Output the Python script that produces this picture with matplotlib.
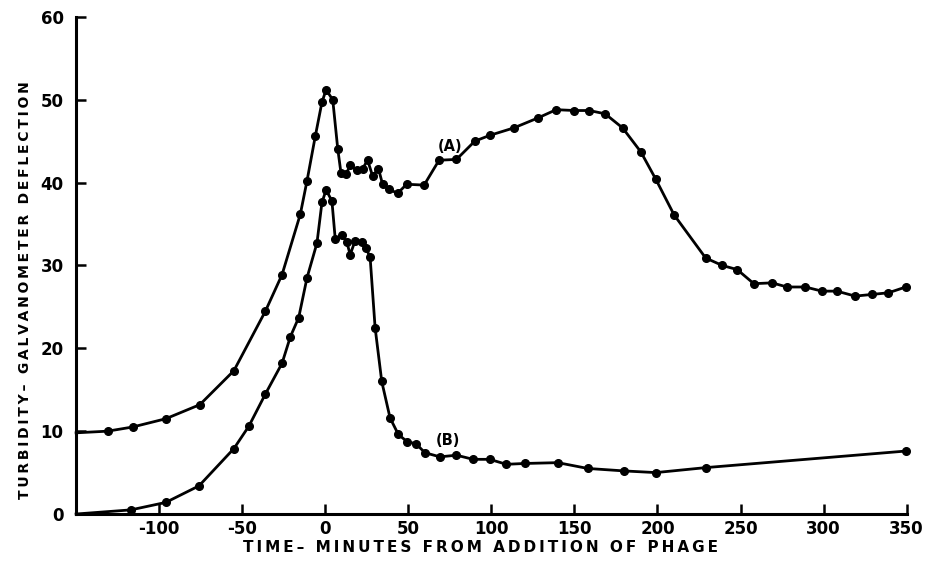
import matplotlib
matplotlib.use('Agg')
import matplotlib.pyplot as plt

plt.rcParams['font.family'] = 'DejaVu Sans'
plt.rcParams['font.weight'] = 'bold'
plt.rcParams['axes.unicode_minus'] = False

# curve (A)
time_a = [-150, -131, -116, -96, -75.5, -55, -36, -26, -15, -11, -6, -2, 0.5, 4.5,
          7.5, 9.5, 12.5, 15, 19, 22.5, 25.5, 28.5, 32, 34.5, 38.5, 43.5, 49, 59.5,
          68.5, 79, 90, 99, 113.5, 128, 139, 150, 159, 168.5, 179, 190, 199, 210,
          229, 239, 248, 258, 269, 278, 289, 299, 308, 319, 329, 339, 349.5]
turb_a = [9.8, 10.0, 10.5, 11.5, 13.2, 17.3, 24.5, 28.9, 36.2, 40.2, 45.6, 49.7, 51.2, 50.0,
          44.1, 41.1, 41.0, 42.1, 41.5, 41.7, 42.7, 40.8, 41.7, 39.8, 39.2, 38.7, 39.8, 39.7,
          42.7, 42.8, 45.0, 45.7, 46.6, 47.8, 48.8, 48.7, 48.7, 48.3, 46.6, 43.7, 40.4, 36.1,
          30.9, 30.0, 29.5, 27.8, 27.9, 27.4, 27.4, 26.9, 26.9, 26.3, 26.5, 26.7, 27.4]

# curve (B)
time_b = [-150, -117, -96, -76, -55, -46, -36, -26, -21, -16, -11, -5, -2, 0.5, 4,
          6, 10, 13, 15, 18, 22, 24.5, 27, 30, 34, 39, 44, 49.5, 54.5, 60,
          69, 79, 89, 99, 109, 120, 140, 158, 180, 199, 229, 349.5]
turb_b = [0, 0.5, 1.4, 3.4, 7.9, 10.6, 14.5, 18.2, 21.4, 23.7, 28.5, 32.7, 37.6, 39.1, 37.8,
          33.2, 33.7, 32.8, 31.3, 33.0, 32.8, 32.1, 31.0, 22.5, 16.0, 11.6, 9.6, 8.7, 8.5, 7.4,
          6.9, 7.1, 6.6, 6.6, 6.0, 6.1, 6.2, 5.5, 5.2, 5.0, 5.6, 7.6]

x_ticks = [-100, -50, 0, 50, 100, 150, 200, 250, 300, 350]
y_ticks = [0, 10, 20, 30, 40, 50, 60]

x_title = 'TIME– MINUTES FROM ADDITION OF PHAGE'
y_title = 'TURBIDITY– GALVANOMETER DEFLECTION'


def spaced(s):
    # old drafting lettering is wide, put a thin space between letters
    return '\u2009'.join(s)


fig = plt.figure(figsize=(9.28, 5.63), dpi=100)
ax = fig.add_axes([0.082, 0.087, 0.895, 0.883])

for t, v in [(time_a, turb_a), (time_b, turb_b)]:
    ax.plot(t, v, color='black', linewidth=2.0, marker='o', markersize=5.5,
            markevery=list(range(1, len(t))), clip_on=False)

ax.text(75, 44.4, '(A)', fontsize=10.5, fontweight='bold', ha='center', va='center')
ax.text(74, 8.9, '(B)', fontsize=10.5, fontweight='bold', ha='center', va='center')

ax.set_xlim(-150, 350)
ax.set_ylim(0, 60)
ax.set_xticks(x_ticks)
ax.set_yticks(y_ticks)
ax.tick_params(direction='in', length=7, width=1.8, labelsize=12)
ax.tick_params(axis='x', pad=4)
ax.tick_params(axis='y', pad=9)
for lab in ax.get_xticklabels() + ax.get_yticklabels():
    lab.set_fontweight('bold')

for side in ['top', 'right']:
    ax.spines[side].set_visible(False)
for side in ['left', 'bottom']:
    ax.spines[side].set_linewidth(2.2)

fig.text(481 / 928, 1 - 547 / 563, spaced(x_title), fontsize=11, fontweight='bold',
         ha='center', va='center')
fig.text(25 / 928, 1 - 290 / 563, spaced(y_title), fontsize=10, fontweight='bold',
         ha='center', va='center', rotation=90)

fig.savefig('out.png', dpi=100)
